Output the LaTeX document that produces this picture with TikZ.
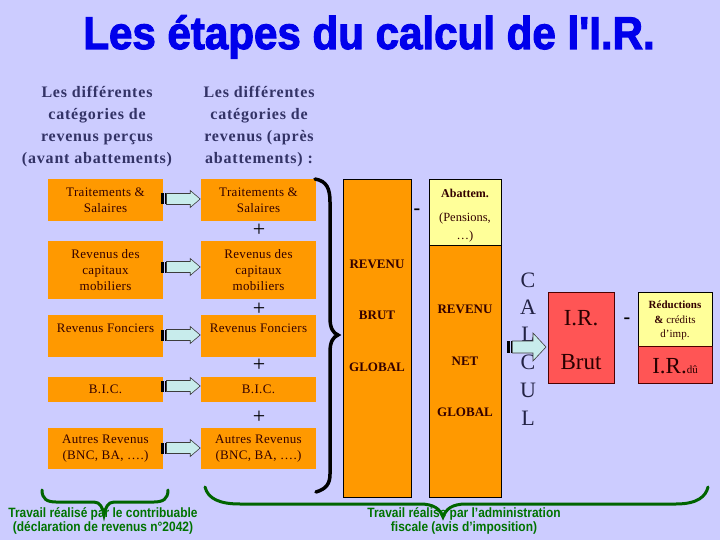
\documentclass[tikz,border=0pt]{standalone}
\usepackage{fontspec}
\setmainfont{Liberation Serif}
\setsansfont{Liberation Sans}
\newfontfamily\titlefont[FakeBold=2.5]{Liberation Sans Bold}
\usetikzlibrary{calc}
\definecolor{bg}{RGB}{204,204,255}
\definecolor{orangebox}{RGB}{255,153,0}
\definecolor{boxtext}{RGB}{51,0,0}
\definecolor{headtext}{RGB}{51,51,102}
\definecolor{titleblue}{RGB}{0,0,235}
\definecolor{yellowbox}{RGB}{255,255,153}
\definecolor{redbox}{RGB}{255,85,85}
\definecolor{arrowfill}{RGB}{200,236,236}
\definecolor{arrowline}{RGB}{60,60,60}
\definecolor{darkgreen}{RGB}{0,100,0}
\definecolor{greentext}{RGB}{0,115,0}
\definecolor{calctext}{RGB}{34,34,68}
\begin{document}
\begin{tikzpicture}[x=1pt,y=-1pt,
  catbox/.style={fill=orangebox, minimum width=115pt, inner sep=0pt, text=boxtext,
    font=\fontsize{13}{16}\selectfont\addfontfeature{LetterSpace=2.5}, align=center},
  tallbox/.style={fill=orangebox, draw=black, line width=0.6pt, inner sep=0pt},
  yellowcell/.style={fill=yellowbox, draw=black, line width=0.6pt, inner sep=0pt},
  redcell/.style={fill=redbox, draw=black!70!red, line width=0.6pt, inner sep=0pt},
  header/.style={text=headtext, font=\fontsize{16}{22}\selectfont\bfseries\addfontfeature{LetterSpace=5}, align=center},
  plus/.style={font=\fontsize{22}{22}\selectfont, text=black, inner sep=0pt},
  minus/.style={font=\fontsize{20}{20}\selectfont\bfseries, text=black, inner sep=0pt},
  colword/.style={font=\fontsize{13}{13}\selectfont\bfseries, text=boxtext, inner sep=0pt},
  calcletter/.style={font=\fontsize{22}{22}\selectfont, text=calctext, inner sep=0pt},
  bigword/.style={font=\fontsize{23}{23}\selectfont, text=boxtext!80!black, inner sep=0pt},
  greenbrace/.style={draw=darkgreen, line width=3pt, line cap=round},
  greennote/.style={text=greentext, font=\fontsize{13.5}{13.5}\selectfont\sffamily\bfseries, align=center, inner sep=0pt},
  pics/stripearrow/.style n args={3}{code={
    \fill[black] (0,-#1) rectangle (2.6,#1);
    \fill[black] (3.6,-#1) rectangle (4.8,#1);
    \draw[fill=arrowfill, draw=arrowline, line width=0.6pt, line join=miter]
      (5.3,-#1) -- (39-#3,-#1) -- (39-#3,-#2) -- (39,0) -- (39-#3,#2) -- (39-#3,#1) -- (5.3,#1) -- cycle;
  }}
]
\useasboundingbox[fill=bg] (0,0) rectangle (720,540);

% title
\node[text=titleblue, font=\fontsize{46}{46}\titlefont, inner sep=0pt, anchor=base] (title) at (369,49)
  {\scalebox{0.915}[1]{Les étapes du calcul de l\symbol{39}I.R.}};

% headers
\node[header] (H1) at (97,127) {Les différentes\\catégories de\\revenus perçus\\(avant abattements)};
\node[header] (H2) at (259,127) {Les différentes\\catégories de\\revenus (après\\abattements) :};

% left column
\node[catbox, minimum height=42pt] (L1) at (105.5,200) {Traitements \&\\Salaires};
\node[catbox, minimum height=58pt] (L2) at (105.5,270) {Revenus des\\capitaux\\mobiliers};
\node[catbox, minimum height=42pt] (L3) at (105.5,336) {Revenus Fonciers\\\mbox{}};
\node[catbox, minimum height=25pt] (L4) at (105.5,389.5) {B.I.C.};
\node[catbox, minimum height=41pt] (L5) at (105.5,448.5) {Autres Revenus\\(BNC, BA, ….)};

% right column
\node[catbox, minimum height=42pt] (R1) at (258.5,200) {Traitements \&\\Salaires};
\node[catbox, minimum height=58pt] (R2) at (258.5,270) {Revenus des\\capitaux\\mobiliers};
\node[catbox, minimum height=42pt] (R3) at (258.5,336) {Revenus Fonciers\\\mbox{}};
\node[catbox, minimum height=25pt] (R4) at (258.5,389.5) {B.I.C.};
\node[catbox, minimum height=41pt] (R5) at (258.5,448.5) {Autres Revenus\\(BNC, BA, ….)};

% plus signs
\node[plus] (P1) at (259,230) {+};
\node[plus] (P2) at (259,309) {+};
\node[plus] (P3) at (259,365) {+};
\node[plus] (P4) at (259,417) {+};

% striped arrows
\pic at ($(L1.east)+(-2,-1)$) {stripearrow={5.5}{8.5}{10}};
\pic at ($(L2.east)+(-2,-3)$) {stripearrow={5.5}{8.5}{10}};
\pic at ($(L3.east)+(-2,-1)$) {stripearrow={5.5}{8.5}{10}};
\pic at ($(L4.east)+(-2,-3.5)$) {stripearrow={5.5}{8.5}{10}};
\pic at ($(L5.east)+(-2,-0.5)$) {stripearrow={5.5}{8.5}{10}};

% big black brace
\draw[line width=3.5pt, line cap=round]
  (315,179) .. controls (327,181) and (330,189) .. (330,202) -- (330,318)
  .. controls (330,328) and (333,333) .. (338,335)
  .. controls (333,337) and (330,342) .. (330,352) -- (330,474)
  .. controls (330,484) and (326,489) .. (316,492);

% revenu brut global
\node[tallbox, minimum width=68pt, minimum height=318pt] (RB) at (377,338) {};
\node[colword] (RB1) at (377,264) {REVENU};
\node[colword] (RB2) at (377,315) {BRUT};
\node[colword] (RB3) at (377,367) {GLOBAL};

\node[minus] (M1) at (417,212) {-};

% abattements / revenu net global
\node[yellowcell, minimum width=72pt, minimum height=66pt] (AB) at (465,212) {};
\node[font=\fontsize{12}{12}\selectfont\bfseries, text=boxtext, inner sep=0pt] (AB1) at (465,193) {Abattem.};
\node[font=\fontsize{12.5}{12}\selectfont, text=boxtext, inner sep=0pt] (AB2) at (465,218) {(Pensions,};
\node[font=\fontsize{12.5}{12}\selectfont, text=boxtext, inner sep=0pt] (AB3) at (465,236) {…)};
\node[tallbox, minimum width=72pt, minimum height=252pt] (RN) at (465,371) {};
\node[colword] (RN1) at (465,309) {REVENU};
\node[colword] (RN2) at (465,361) {NET};
\node[colword] (RN3) at (465,412) {GLOBAL};

% CALCUL
\node[calcletter] (C1) at (528,280) {C};
\node[calcletter] (C2) at (528,307) {A};
\node[calcletter] (C3) at (528,334) {L};
\node[calcletter] (C4) at (528,362) {C};
\node[calcletter] (C5) at (528,390) {U};
\node[calcletter] (C6) at (528,418) {L};
\pic at (507,347) {stripearrow={6}{14}{13}};

% I.R. brut
\node[redcell, minimum width=66pt, minimum height=91pt] (IRB) at (581,337.5) {};
\node[bigword] (IRB1) at (581,318) {I.R.};
\node[bigword] (IRB2) at (581,362) {Brut};

\node[minus] (M2) at (627,321) {-};

% reductions / I.R. du
\node[yellowcell, minimum width=74pt, minimum height=54pt] (RED) at (675,319) {};
\node[font=\fontsize{11}{11}\selectfont\bfseries, text=boxtext, inner sep=0pt] (RED1) at (675,305) {Réductions};
\node[font=\fontsize{11}{11}\selectfont, text=boxtext, inner sep=0pt] (RED2) at (675,320) {\textbf{\&} crédits};
\node[font=\fontsize{11}{11}\selectfont, text=boxtext, inner sep=0pt] (RED3) at (675,335) {d’imp.};
\node[redcell, minimum width=74pt, minimum height=37pt] (IRD) at (675,364.5) {};
\node[font=\fontsize{23}{23}\selectfont, text=boxtext!80!black, inner sep=0pt] (IRD1) at (675,366) {I.R.{\fontsize{11}{11}\selectfont dû}};

% green braces
\draw[greenbrace]
  (42,490) .. controls (42,499) and (47,502) .. (56,502) -- (94,502)
  .. controls (100,502) and (103,508) .. (104,515)
  .. controls (105,508) and (108,502) .. (114,502) -- (154,502)
  .. controls (163,502) and (168,499) .. (168,490);
\draw[greenbrace]
  (205,487) .. controls (208,499) and (220,504) .. (240,504) -- (420,504)
  .. controls (434,504) and (440,509) .. (443,517)
  .. controls (446,509) and (452,504) .. (466,504) -- (676,504)
  .. controls (698,504) and (706,496) .. (708,487);

\node[greennote] (N1) at (103,521) {\scalebox{0.885}[1]{Travail réalisé par le contribuable}\\\scalebox{0.885}[1]{(déclaration de revenus n°2042)}};
\node[greennote] (N2) at (464,521) {\scalebox{0.885}[1]{Travail réalise par l’administration}\\\scalebox{0.885}[1]{fiscale (avis d’imposition)}};
\end{tikzpicture}
\end{document}
